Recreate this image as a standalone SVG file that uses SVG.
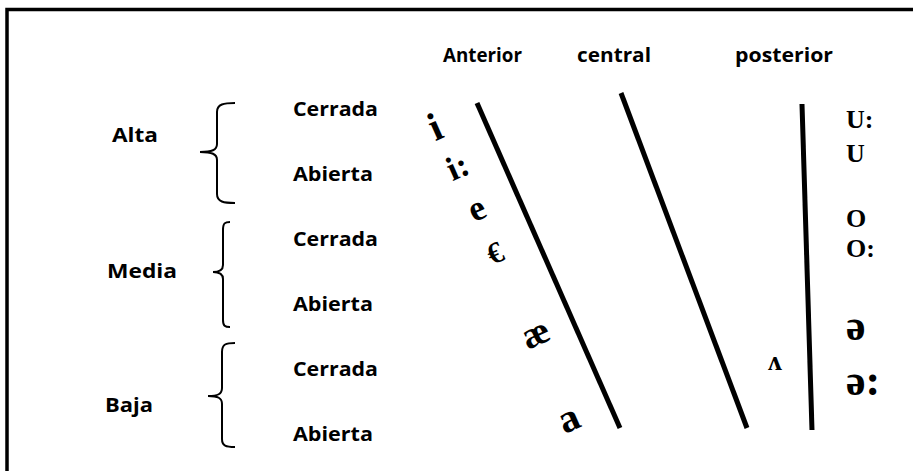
<svg xmlns="http://www.w3.org/2000/svg" width="913" height="471" viewBox="0 0 913 471">
<style>
.lbl{font-family:"Open Sans","Liberation Sans",sans-serif;font-weight:bold;font-size:20px;fill:#000}
.v{font-family:"Liberation Serif","DejaVu Serif",serif;font-weight:bold;fill:#000;text-anchor:middle}
.r{font-family:"Liberation Serif","DejaVu Serif",serif;font-weight:bold;fill:#000}
.ln{stroke:#000;stroke-width:5;fill:none}
.br{stroke:#000;stroke-width:2;fill:none}
</style>
<rect x="7" y="9.5" width="1000" height="1000" fill="#fff" stroke="#000" stroke-width="3.5"/>
<g id="headers">
<text class="lbl" x="443" y="62" textLength="79" lengthAdjust="spacingAndGlyphs">Anterior</text>
<text class="lbl" x="577" y="62" textLength="74" lengthAdjust="spacingAndGlyphs">central</text>
<text class="lbl" x="735" y="62" textLength="98" lengthAdjust="spacingAndGlyphs">posterior</text>
</g>
<g id="alta">
<text class="lbl" x="112" y="142" textLength="46" lengthAdjust="spacingAndGlyphs">Alta</text>
<path class="br" d="M235,103 C224,103 217,104 217,112 L217,144 C217,150 212,152 200,152 C212,152 217,154 217,160 L217,194 C217,202 224,203 235,203"/>
<text class="lbl" x="293" y="116" textLength="85" lengthAdjust="spacingAndGlyphs">Cerrada</text>
<text class="lbl" x="293" y="181" textLength="80" lengthAdjust="spacingAndGlyphs">Abierta</text>
</g>
<g id="media">
<text class="lbl" x="107" y="278" textLength="70" lengthAdjust="spacingAndGlyphs">Media</text>
<path class="br" d="M230,222 C225,222 223,223 223,230 L223,265 C223,270 220,272 213,272 C220,272 223,274 223,279 L223,320 C223,326 225,327 230,327"/>
<text class="lbl" x="293" y="246" textLength="85" lengthAdjust="spacingAndGlyphs">Cerrada</text>
<text class="lbl" x="293" y="311" textLength="80" lengthAdjust="spacingAndGlyphs">Abierta</text>
</g>
<g id="baja">
<text class="lbl" x="105" y="412" textLength="48" lengthAdjust="spacingAndGlyphs">Baja</text>
<path class="br" d="M235,343 C226,343 222,344 222,352 L222,388 C222,394 218,396 208,396 C218,396 222,398 222,404 L222,439 C222,446 226,447 235,447"/>
<text class="lbl" x="293" y="376" textLength="85" lengthAdjust="spacingAndGlyphs">Cerrada</text>
<text class="lbl" x="293" y="441" textLength="80" lengthAdjust="spacingAndGlyphs">Abierta</text>
</g>
<g id="connectors">
<line class="ln" x1="477" y1="103" x2="620" y2="428"/>
<line class="ln" x1="621" y1="93" x2="747" y2="428"/>
<line class="ln" x1="802" y1="104" x2="812" y2="430"/>
</g>
<g id="anterior-vowels">
<text class="v" font-size="40" transform="translate(435,127) rotate(-24)" y="13">i</text>
<text class="v" font-size="34" transform="translate(458,168) rotate(-24)" y="10">i:</text>
<text class="v" font-size="36" transform="translate(478,212) rotate(-24)" y="8">e</text>
<text class="v" font-size="30" transform="translate(495,253) rotate(-24)" y="10">€</text>
<text class="v" font-size="38" transform="translate(537,337) rotate(-24)" y="8">æ</text>
<text class="v" font-size="40" transform="translate(570,422) rotate(-24)" y="9">a</text>
</g>
<g id="central-vowel">
<text class="r" font-size="28" x="768" y="370">ʌ</text>
</g>
<g id="posterior-vowels">
<text class="r" font-size="26" x="846" y="128">U:</text>
<text class="r" font-size="26" x="846" y="162">U</text>
<text class="r" font-size="26" x="846" y="227">O</text>
<text class="r" font-size="26" x="846" y="257">O:</text>
<text class="r" font-size="44" x="846" y="340">ə</text>
<text class="r" font-size="44" x="846" y="395">ə:</text>
</g>
</svg>
